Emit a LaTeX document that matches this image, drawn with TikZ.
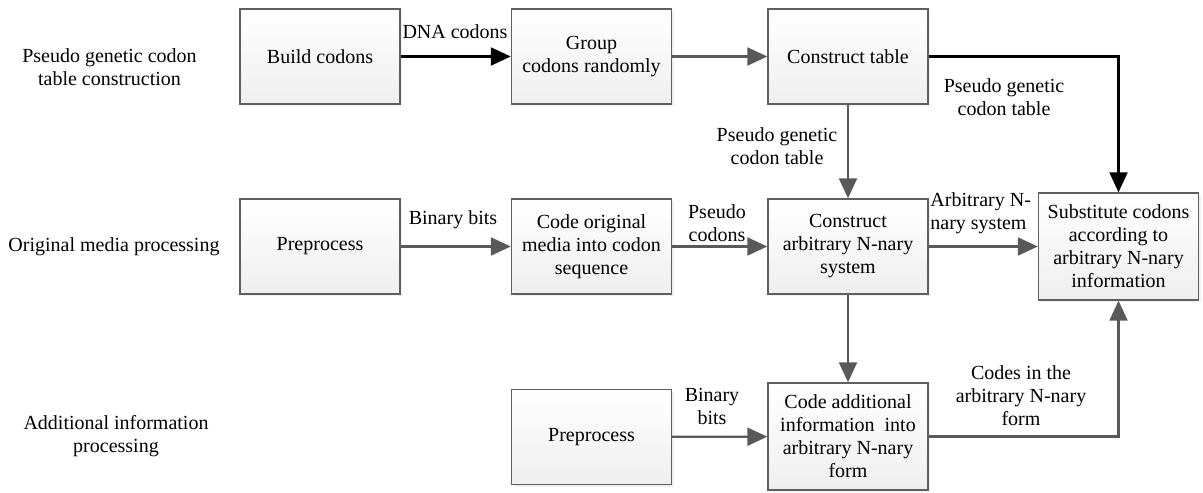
\documentclass[tikz,border=0pt]{standalone}
\usepackage{fontspec}
\setmainfont{Liberation Serif}
\usetikzlibrary{arrows.meta,shadows}
\definecolor{edgegray}{HTML}{595959}
\definecolor{boxline}{HTML}{5F5F5F}
\begin{document}
\begin{tikzpicture}[x=0.5pt,y=-0.5pt,
  txt/.style={font=\fontsize{10}{11.5}\selectfont},
  box/.style={txt, draw=boxline, line width=0.7pt, top color=white, bottom color=gray!13,
    minimum width=80pt, minimum height=47.5pt, inner sep=0pt, align=center,
    drop shadow={shadow xshift=1.2pt, shadow yshift=-1.2pt, opacity=0.12, fill=gray}},
  tallbox/.style={box, minimum height=53.5pt},
  lbl/.style={txt, align=center, inner sep=0pt},
  arr/.style={-{Triangle[length=10pt,width=9pt]}, line width=1.1pt, draw=edgegray},
  barr/.style={-{Triangle[length=10pt,width=9pt]}, line width=1.1pt, draw=black},
]
\useasboundingbox (0,0) rectangle (1203,492);

% row labels
\node[lbl] (r1) at (109.5,67) {Pseudo genetic codon\\table construction};
\node[lbl] (r2) at (114,247) {Original media processing};
\node[lbl] (r3) at (116,436.5) {Additional information\\processing};

% boxes
\node[box] (build) at (320,56.5) {Build codons};
\node[box] (group) at (591.5,56.5) {Group\\codons randomly};
\node[box] (ctable) at (848,56.5) {Construct table};
\node[box] (prep1) at (320,246.5) {Preprocess};
\node[box] (codeorig) at (591.5,246.5) {Code original\\media into codon\\sequence};
\node[box] (carb) at (848,246.5) {Construct\\arbitrary N-nary\\system};
\node[tallbox] (subst) at (1118.5,246.5) {Substitute codons\\according to\\arbitrary N-nary\\information};
\node[box] (prep2) at (591.5,437) {Preprocess};
\node[tallbox] (codeadd) at (848,436.5) {Code additional\\information~ into\\arbitrary N-nary\\form};

% connectors
\draw[barr] (build) -- (group);
\draw[arr] (group) -- (ctable);
\draw[barr] (ctable.east) -| (subst.north);
\draw[arr] (ctable) -- (carb);
\draw[arr] (prep1) -- (codeorig);
\draw[arr] (codeorig) -- (carb);
\draw[arr] (carb) -- (subst);
\draw[arr] (carb) -- (codeadd);
\draw[arr] (prep2) -- (codeadd);
\draw[arr] (codeadd.east) -| (subst.south);

% connector labels
\node[lbl] (l1) at (455,32) {DNA codons};
\node[lbl] (l2) at (453,220) {Binary bits};
\node[lbl] (l3) at (717,223) {Pseudo\\codons};
\node[lbl] (l4) at (777,146) {Pseudo genetic\\codon table};
\node[lbl] (l5) at (1004,97.5) {Pseudo genetic\\codon table};
\node[lbl, align=left, anchor=west] (l6) at (930,213) {Arbitrary N-\\nary system};
\node[lbl] (l7) at (712,406) {Binary\\bits};
\node[lbl] (l8) at (1021,396) {Codes in the\\arbitrary N-nary\\form};
\end{tikzpicture}
\end{document}
